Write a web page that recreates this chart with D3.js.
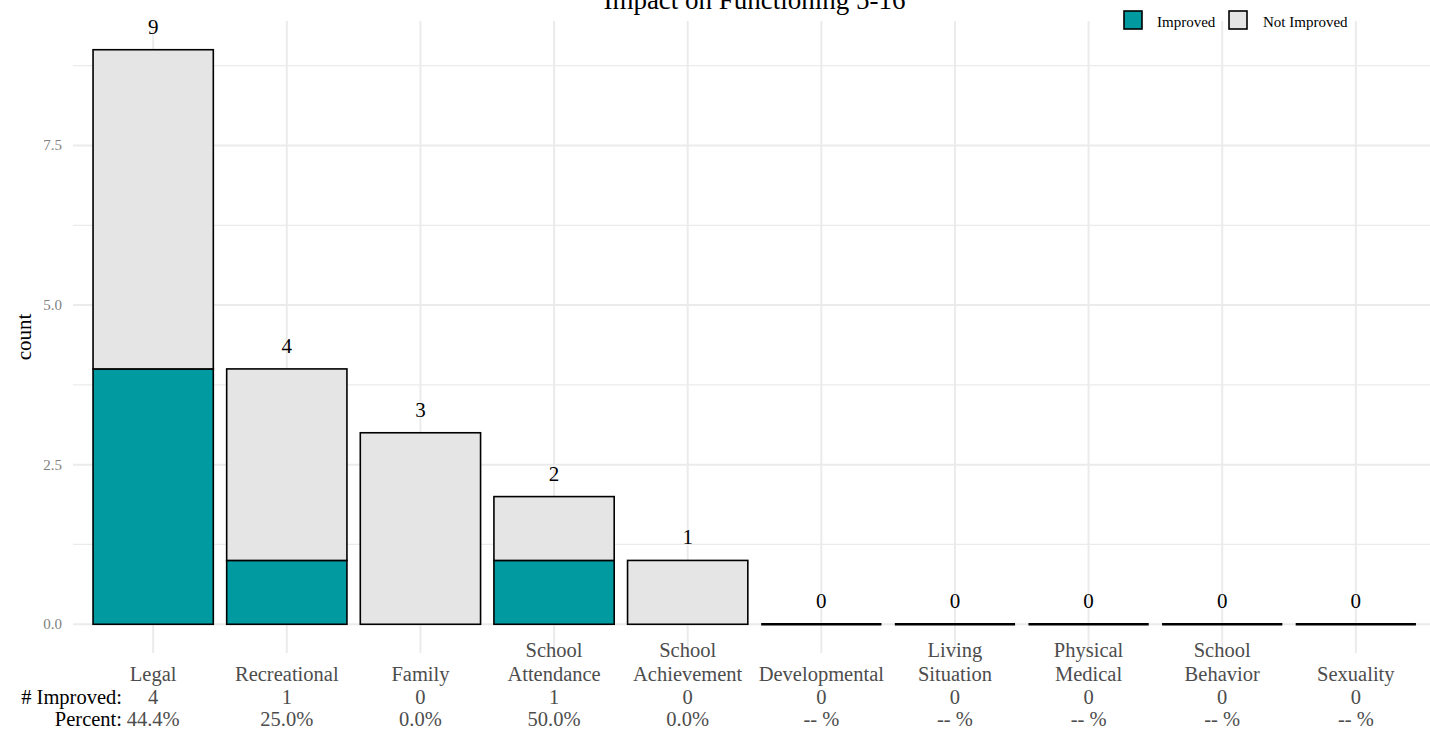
<!DOCTYPE html>
<html>
<head>
<meta charset="utf-8">
<script src="https://cdn.jsdelivr.net/npm/d3@7"></script>
<style>
html,body{margin:0;padding:0;background:#fff;}
svg{display:block;font-family:"Liberation Serif","DejaVu Serif",serif;}
</style>
</head>
<body>
<svg id="chart" width="1430" height="732"></svg>
<script>
const categories = ["Legal","Recreational","Family","School Attendance","School Achievement","Developmental","Living Situation","Physical Medical","School Behavior","Sexuality"];
const categoryLines = [["Legal"],["Recreational"],["Family"],["School","Attendance"],["School","Achievement"],["Developmental"],["Living","Situation"],["Physical","Medical"],["School","Behavior"],["Sexuality"]];
const improved = [4,1,0,1,0,0,0,0,0,0];
const notImproved = [5,3,3,1,1,0,0,0,0,0];
const yTicks = [0, 2.5, 5, 7.5];
const yMinorTicks = [1.25, 3.75, 6.25, 8.75];
const seriesNames = ["Improved","Not Improved"];
const seriesColors = ["#009aa0","#e5e5e5"];
const title = "Impact on Functioning 5-16";

(function(){
const svg = d3.select("#chart");
const pLeft = 73, pRight = 1436, pTop = 21, pBottom = 653;

const x = d3.scaleBand().domain(categories).range([pLeft, pRight]).paddingInner(0.1).paddingOuter(0.15);
const yMax = 9;
const y = d3.scaleLinear().domain([-0.45, yMax + 0.45]).range([pBottom, pTop]);

// grid
const g = svg.append("g");
g.selectAll(".minor").data(yMinorTicks).enter().append("line")
  .attr("x1", pLeft).attr("x2", 1430).attr("y1", d=>y(d)).attr("y2", d=>y(d))
  .attr("stroke", "#ebebeb").attr("stroke-width", 1.2);
g.selectAll(".major").data(yTicks).enter().append("line")
  .attr("x1", pLeft).attr("x2", 1430).attr("y1", d=>y(d)).attr("y2", d=>y(d))
  .attr("stroke", "#ebebeb").attr("stroke-width", 2);
g.selectAll(".vgrid").data(categories).enter().append("line")
  .attr("x1", d=>x(d)+x.bandwidth()/2).attr("x2", d=>x(d)+x.bandwidth()/2)
  .attr("y1", pTop).attr("y2", pBottom)
  .attr("stroke", "#ebebeb").attr("stroke-width", 2);

// y tick labels
g.selectAll(".ytl").data(yTicks).enter().append("text")
  .attr("x", 62).attr("y", d=>y(d)+5).attr("text-anchor","end")
  .attr("font-size", 15).attr("fill", "#7f7f7f")
  .text(d=>d.toFixed(1));

// y axis label
svg.append("text").attr("transform", `translate(31,${(pTop+pBottom)/2}) rotate(-90)`)
  .attr("text-anchor","middle").attr("font-size", 21).attr("fill","#000").text("count");

// bars
const bars = svg.append("g");
categories.forEach((c,i)=>{
  const vals = [improved[i], notImproved[i]];
  let base = 0;
  vals.forEach((v,k)=>{
    if (v > 0) {
      bars.append("rect")
        .attr("x", x(c)).attr("width", x.bandwidth())
        .attr("y", y(base+v)).attr("height", y(base)-y(base+v))
        .attr("fill", seriesColors[k]).attr("stroke","#000").attr("stroke-width",1.6);
    }
    base += v;
  });
  if (base === 0) {
    bars.append("line").attr("x1", x(c)).attr("x2", x(c)+x.bandwidth())
      .attr("y1", y(0)).attr("y2", y(0)).attr("stroke","#000").attr("stroke-width",2.5);
  }
  svg.append("text").attr("x", x(c)+x.bandwidth()/2).attr("y", y(base)-16)
    .attr("text-anchor","middle").attr("font-size",21).attr("fill","#000").text(base);
});

// category labels
const lineYs = [657, 681, 704, 726];
categories.forEach((c,i)=>{
  const cx = x(c)+x.bandwidth()/2;
  const total = improved[i]+notImproved[i];
  const pct = total>0 ? (improved[i]/total*100).toFixed(1)+"%" : "-- %";
  const lines = categoryLines[i];
  const nameStart = 2 - lines.length;
  const all = lines.map((t,k)=>({t, yy: lineYs[nameStart+k]}));
  all.push({t: String(improved[i]), yy: lineYs[2]});
  all.push({t: pct, yy: lineYs[3]});
  all.forEach(o=>{
    svg.append("text").attr("x", cx).attr("y", o.yy).attr("text-anchor","middle")
      .attr("font-size",20.5).attr("fill","#4d4d4d").text(o.t);
  });
});
svg.append("text").attr("x",122).attr("y",704).attr("text-anchor","end")
  .attr("font-size",20.5).attr("fill","#000").text("# Improved:");
svg.append("text").attr("x",122).attr("y",726).attr("text-anchor","end")
  .attr("font-size",20.5).attr("fill","#000").text("Percent:");

// title
svg.append("text").attr("x",(pLeft+pRight)/2).attr("y",9).attr("text-anchor","middle")
  .attr("font-size",27).attr("fill","#000").text(title);

// legend
const legX = [1124, 1229], textX = [1157, 1263];
seriesNames.forEach((s,k)=>{
  svg.append("rect").attr("x", legX[k]).attr("y", 11).attr("width",18).attr("height",18)
    .attr("fill", seriesColors[k]).attr("stroke","#000").attr("stroke-width",1.6);
  svg.append("text").attr("x", textX[k]).attr("y", 27).attr("font-size",15).attr("fill","#000").text(s);
});
})();
</script>
</body>
</html>
